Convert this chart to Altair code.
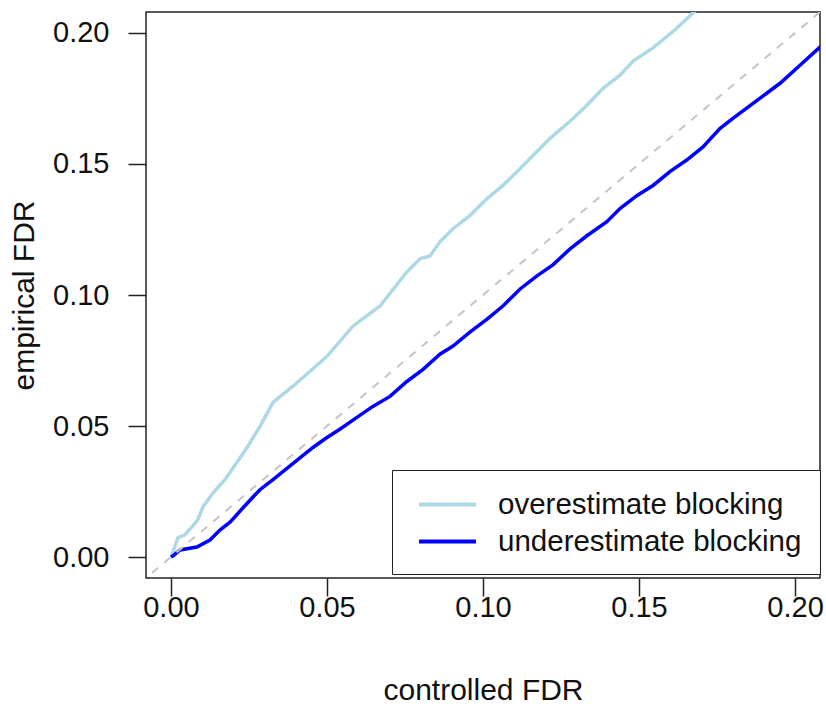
import altair as alt
import pandas as pd

# controlled FDR (x) and empirical FDR (y) for each setting
over_x = [0.0, 0.0003, 0.0022, 0.0045, 0.0067, 0.0085, 0.0103, 0.0135, 0.0173, 0.0244, 0.0285,
          0.0327, 0.039, 0.0446, 0.05, 0.0583, 0.067, 0.0756, 0.0798, 0.0830, 0.0862, 0.0904,
          0.0958, 0.1013, 0.1064, 0.1119, 0.1173, 0.1215, 0.1279, 0.1333, 0.1385, 0.1439,
          0.1481, 0.1545, 0.1622, 0.1683, 0.175]
over_y = [0.0, 0.0008, 0.0073, 0.0085, 0.0115, 0.014, 0.0192, 0.0245, 0.0295, 0.0418, 0.0498,
          0.059, 0.0651, 0.0709, 0.0766, 0.0881, 0.0958, 0.1088, 0.1138, 0.1149, 0.1203, 0.1253,
          0.1303, 0.1368, 0.1418, 0.1483, 0.1548, 0.1598, 0.1663, 0.1724, 0.1789, 0.1839,
          0.1893, 0.1943, 0.2019, 0.2088, 0.215]

under_x = [0.0, 0.0006, 0.0029, 0.0083, 0.0125, 0.0157, 0.019, 0.0231, 0.0285, 0.0327, 0.0455,
           0.05, 0.054, 0.0596, 0.0647, 0.0702, 0.0756, 0.0808, 0.0862, 0.0904, 0.0958, 0.1013,
           0.1064, 0.1119, 0.1173, 0.1224, 0.1279, 0.1333, 0.1397, 0.1439, 0.1494, 0.1545,
           0.1599, 0.1654, 0.1705, 0.176, 0.1801, 0.1888, 0.1952, 0.2016, 0.2077, 0.212]
under_y = [0.0, 0.0004, 0.0027, 0.0038, 0.0065, 0.0103, 0.0134, 0.0188, 0.0257, 0.0295, 0.0418,
           0.0456, 0.0487, 0.0533, 0.0575, 0.0613, 0.0670, 0.0716, 0.0774, 0.0805, 0.0858, 0.0908,
           0.0958, 0.1023, 0.1073, 0.1115, 0.1176, 0.1226, 0.128, 0.133, 0.138, 0.1418,
           0.1471, 0.1516, 0.1565, 0.1636, 0.1674, 0.1751, 0.1808, 0.1877, 0.1943, 0.198]

series_names = ["overestimate blocking", "underestimate blocking"]
series_colors = ["#ADD8E6", "#0000FF"]

diag = [-0.01, 0.22]
tick_values = [0.0, 0.05, 0.10, 0.15, 0.20]
domain = [-0.008, 0.208]

df = pd.concat([
    pd.DataFrame({"x": over_x, "y": over_y, "series": series_names[0], "order": range(len(over_x))}),
    pd.DataFrame({"x": under_x, "y": under_y, "series": series_names[1], "order": range(len(under_x))}),
])
df_diag = pd.DataFrame({"x": diag, "y": diag})

FONT = "Liberation Sans"

xscale = alt.Scale(domain=domain, nice=False, zero=False)
yscale = alt.Scale(domain=domain, nice=False, zero=False)

xaxis = alt.Axis(values=tick_values, format=".2f", title="controlled FDR",
                 titleY=112, titleBaseline="middle", labelPadding=-3)
yaxis = alt.Axis(values=tick_values, format=".2f", title="empirical FDR",
                 labelPadding=19, titleX=-122, titleY=283, titleAngle=270,
                 titleAlign="center", titleBaseline="middle")

diag_layer = alt.Chart(df_diag).mark_line(
    color="#C4C4C4", strokeDash=[8, 8], strokeWidth=2, clip=True
).encode(
    x=alt.X("x:Q", scale=xscale, axis=xaxis),
    y=alt.Y("y:Q", scale=yscale, axis=yaxis),
)

lines = alt.Chart(df).mark_line(strokeWidth=3.5, clip=True).encode(
    x=alt.X("x:Q", scale=xscale, axis=xaxis),
    y=alt.Y("y:Q", scale=yscale, axis=yaxis),
    color=alt.Color("series:N",
                    scale=alt.Scale(domain=series_names, range=series_colors),
                    legend=alt.Legend(title=None, orient="none", legendX=246, legendY=458,
                                      symbolType="M-2,0H2", symbolSize=812,
                                      symbolStrokeWidth=4, symbolOffset=21,
                                      labelFontSize=29.5, labelFont=FONT,
                                      labelColor="#111111",
                                      labelOffset=34, rowPadding=6, padding=18,
                                      strokeColor="#222222", fillColor="white",
                                      labelLimit=500)),
    order="order:Q",
)

chart = alt.layer(lines, diag_layer).properties(
    width=674, height=566,
    background="white",
    autosize=alt.AutoSizeParams(type="none"),
    padding={"left": 146, "top": 12, "right": 6, "bottom": 137},
).configure_view(
    stroke="#222222", strokeWidth=1.5
).configure_axis(
    grid=False, domain=False, tickColor="#222222", tickSize=18, tickWidth=1.5,
    labelFont=FONT, labelFontSize=29, labelColor="#111111",
    titleFont=FONT, titleFontSize=30, titleFontWeight="normal", titleColor="#111111",
).configure_axisY(labelAngle=0)

chart.save("out.html", embed_options={"renderer": "svg", "actions": False})
